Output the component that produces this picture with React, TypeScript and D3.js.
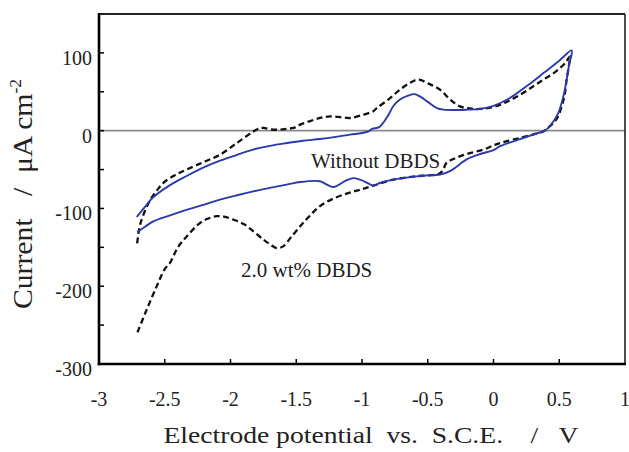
import React from "react";
import * as d3 from "d3";

// Cyclic voltammograms: current density (µA cm^-2) vs. potential (V vs. S.C.E.)
// Each series is the forward (anodic) sweep followed by the reverse (cathodic) sweep.

const withoutPotential = [
  -2.713, -2.65, -2.59, -2.46, -2.33, -2.2, -2.08, -1.95, -1.83, -1.7, -1.57, -1.45, -1.32, -1.2, -1.09, -1.0,
  -0.95, -0.92, -0.87, -0.8, -0.76, -0.711, -0.65, -0.6, -0.56, -0.5, -0.43, -0.38, -0.3, -0.2, -0.1, 0, 0.125,
  0.25, 0.38, 0.5, 0.595,
  0.575, 0.556, 0.531, 0.493, 0.43, 0.39, 0.3, 0.2, 0.05, 0, -0.1, -0.204, -0.331, -0.407, -0.5, -0.584, -0.762,
  -0.86, -0.914, -0.96, -1.015, -1.066, -1.12, -1.218, -1.27, -1.32, -1.47, -1.573, -1.7, -1.826, -1.95, -2.08,
  -2.2, -2.33, -2.46, -2.587, -2.65, -2.71,
];
const withoutCurrent = [
  -111, -98, -86, -70, -58, -47, -38.6, -31, -24.4, -19.5, -15.9, -13, -10.7, -8, -5.1, -3,
  -1, 2.5, 4.5, 20, 32, 40, 45, 47, 44, 37, 29, 27, 26.5, 27, 28, 32, 42,
  57, 74, 90, 103,
  85, 65, 44, 23, 6, 0, -5, -11, -20, -25, -30, -37, -52, -56.6, -57.5, -58.7, -63,
  -67, -70.7, -67, -63, -61, -64, -72.4, -69, -65, -66, -69.4, -73.5, -78, -83, -88.7,
  -95, -101.6, -109, -116.6, -123.5, -130.5,
];

const dbdsPotential = [
  -2.71, -2.7, -2.688, -2.65, -2.61, -2.56, -2.51, -2.42, -2.333, -2.2, -2.08, -1.953, -1.87, -1.826, -1.78, -1.75,
  -1.69, -1.624, -1.57, -1.52, -1.47, -1.4, -1.32, -1.243, -1.15, -1.09, -1.0, -0.914, -0.888, -0.8, -0.711, -0.64,
  -0.572, -0.5, -0.407, -0.33, -0.255, -0.18, -0.103, 0, 0.1, 0.2, 0.303, 0.379, 0.45, 0.506, 0.55, 0.582,
  0.575, 0.556, 0.54, 0.518, 0.49, 0.455, 0.41, 0.379, 0.3, 0.201, 0.05, 0, -0.077, -0.204, -0.3, -0.36, -0.382,
  -0.41, -0.5, -0.584, -0.762, -0.914, -1.015, -1.1, -1.22, -1.32, -1.4, -1.47, -1.54, -1.6, -1.649, -1.7, -1.75,
  -1.826, -1.9, -1.979, -2.05, -2.105, -2.17, -2.232, -2.333, -2.4, -2.46, -2.5, -2.561, -2.637, -2.709,
];
const dbdsCurrent = [
  -145, -132, -121, -103, -89, -77, -67, -57, -50, -40, -31, -16, -6, -1, 3, 3.5,
  1.5, 1.3, 2.5, 3.5, 7.7, 12, 16.3, 18.4, 17, 16.3, 20, 25, 29, 40, 52.7, 61,
  65.6, 61, 52.7, 40, 31.2, 28.5, 27.9, 30.5, 37, 46, 57, 65.6, 73, 80.6, 88, 95.6,
  85, 65.6, 45, 31.2, 18, 9.9, 3, -1, -5, -9.4, -15.9, -19, -24.4, -30, -36, -42, -50,
  -55, -57.5, -58.5, -63, -70.7, -75.9, -80, -87.5, -97, -110, -123, -137, -148.8, -151, -146, -140,
  -129.5, -120, -114.4, -110.5, -110, -113, -118.7, -136, -150, -170, -178, -200, -230, -260,
];

const xTicks = [-3, -2.5, -2, -1.5, -1, -0.5, 0, 0.5, 1];
const yTickLabels = [100, 0, -100, -200, -300];
const yMinorTicks = [-250, -200, -150, -100, -50, 0, 50, 100];

const labelWithout = "Without DBDS";
const labelDbds = "2.0 wt% DBDS";

const W = 629;
const H = 452;
const plot = { left: 99, right: 625, top: 14, bottom: 364 };
const serif = "'Liberation Serif', 'Times New Roman', Times, serif";

export default function App() {
  const x = d3.scaleLinear().domain([-3, 1]).range([plot.left, plot.right]);
  const y = d3.scaleLinear().domain([-300, 150]).range([plot.bottom, plot.top]);

  const line = d3
    .line<[number, number]>()
    .x((d) => x(d[0]))
    .y((d) => y(d[1]))
    .curve(d3.curveCatmullRom.alpha(0.5));

  const withoutPts = withoutPotential.map((v, i) => [v, withoutCurrent[i]] as [number, number]);
  const dbdsPts = dbdsPotential.map((v, i) => [v, dbdsCurrent[i]] as [number, number]);

  return (
    <svg
      width={W}
      height={H}
      viewBox={`0 0 ${W} ${H}`}
      style={{ position: "absolute", left: 0, top: 0, background: "#fff" }}
      fontFamily={serif}
    >
      <rect x={0} y={0} width={W} height={H} fill="#fff" />

      {/* zero-current reference line */}
      <line x1={plot.left} x2={plot.right} y1={y(0)} y2={y(0)} stroke="#8a8a8a" strokeWidth={1.6} />

      {/* curves */}
      <path d={line(dbdsPts) ?? ""} fill="none" stroke="#111" strokeWidth={2.3} strokeDasharray="6 3.5" />
      <path d={line(withoutPts) ?? ""} fill="none" stroke="#2a3aac" strokeWidth={1.9} />

      {/* frame */}
      <line x1={plot.left} x2={plot.right} y1={plot.top} y2={plot.top} stroke="#222" strokeWidth={2} />
      <line x1={plot.right} x2={plot.right} y1={plot.top} y2={plot.bottom} stroke="#222" strokeWidth={1.6} />
      <line x1={plot.left} x2={plot.left} y1={plot.top - 1} y2={plot.bottom + 1.3} stroke="#000" strokeWidth={2.6} />
      <line x1={plot.left - 1.3} x2={plot.right + 1} y1={plot.bottom} y2={plot.bottom} stroke="#000" strokeWidth={2.6} />

      {/* y ticks */}
      {yMinorTicks.map((t) => (
        <line key={`yt${t}`} x1={plot.left} x2={plot.left + 5} y1={y(t)} y2={y(t)} stroke="#000" strokeWidth={1.5} />
      ))}
      {yTickLabels.map((t) => (
        <text key={`yl${t}`} x={92} y={y(t) + 12} textAnchor="end" fontSize={20} fill="#222">
          {t}
        </text>
      ))}

      {/* x ticks */}
      {xTicks.map((t) => (
        <g key={`xt${t}`}>
          {t > -3 && t < 1 && (
            <line x1={x(t)} x2={x(t)} y1={plot.bottom} y2={plot.bottom - 5} stroke="#000" strokeWidth={1.5} />
          )}
          <text x={x(t)} y={406} textAnchor="middle" fontSize={20} fill="#222">
            {t}
          </text>
        </g>
      ))}

      {/* series labels */}
      <text x={311} y={168} fontSize={21} fill="#222">
        {labelWithout}
      </text>
      <text x={241} y={277} fontSize={21} fill="#222">
        {labelDbds}
      </text>

      {/* axis titles */}
      <g transform="translate(163.5,443) scale(1.15,1)">
        <text x={0} y={0} fontSize={24} fill="#222" style={{ whiteSpace: "pre" }}>
          {"Electrode potential  vs.  S.C.E.    /   V"}
        </text>
      </g>
      <g transform="translate(31.5,194) rotate(-90) scale(1.1,1)">
        <text x={0} y={0} textAnchor="middle" fontSize={27} fill="#222" style={{ whiteSpace: "pre" }}>
          {"Current   /  \u03bcA cm"}
          <tspan dy={-11} fontSize={16}>
            -2
          </tspan>
        </text>
      </g>
    </svg>
  );
}
